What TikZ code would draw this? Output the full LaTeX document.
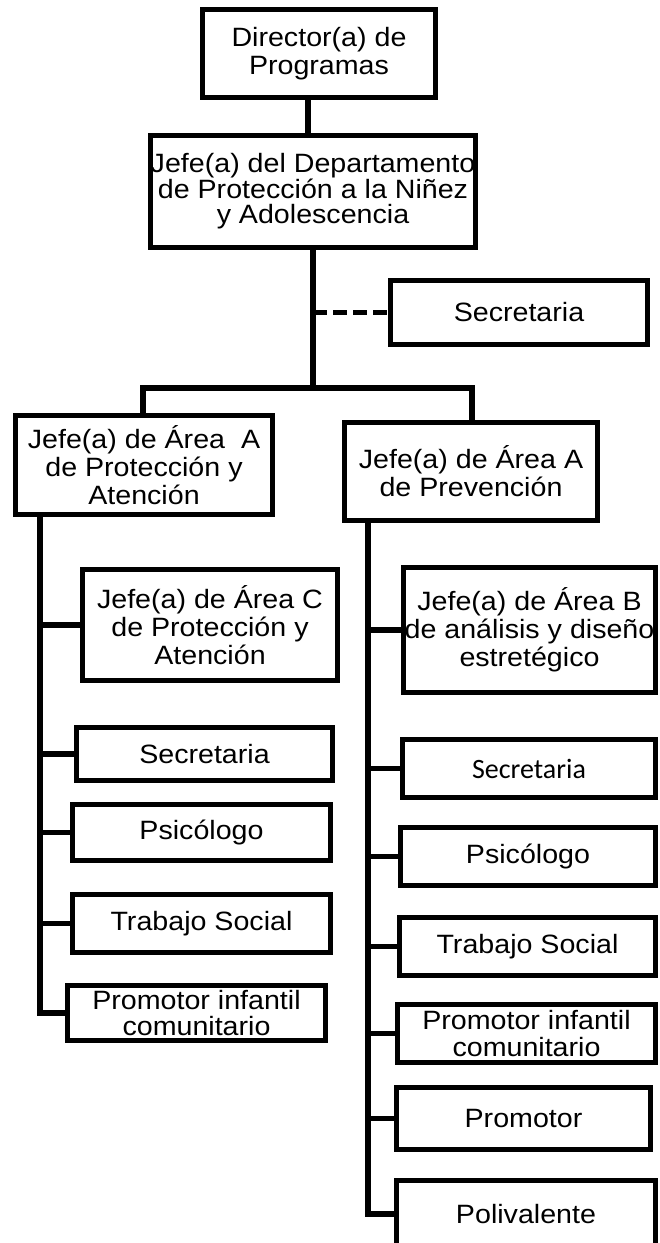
\documentclass[tikz,border=0pt]{standalone}
\usepackage{fontspec}
\setmainfont[FakeStretch=1.08]{Liberation Sans}
\newfontfamily\calfont{Carlito}
\begin{document}
\begin{tikzpicture}[x=1pt,y=-1pt,
  box/.style={draw, line width=5.5pt, rectangle, inner sep=0pt, align=center,
    font=\fontsize{26.5}{28}\selectfont},
  conn/.style={line width=5.5pt, line join=miter}]
\useasboundingbox (0,0) rectangle (660,1243);
\clip (0,0) rectangle (660,1243);
% top
\node[box, minimum width=233pt, minimum height=88pt] (dir) at (319,53.5) {Director(a) de\\Programas};
\node[box, minimum width=321pt, minimum height=112pt, font=\fontsize{26.5}{25}\selectfont, text depth=6pt] (dept) at (313,191.5) {Jefe(a) del Departamento\\de Protección a la Niñez\\y Adolescencia};
\node[box, minimum width=257pt, minimum height=64pt] (sec0) at (519,312.5) {Secretaria};
% area heads
\node[box, minimum width=257pt, minimum height=99pt] (areaA) at (144,465) {Jefe(a) de Área~ A\\de Protección y\\Atención};
\node[box, minimum width=253pt, minimum height=98pt] (areaP) at (471,471.5) {Jefe(a) de Área A\\de Prevención};
% left column
\node[box, minimum width=255pt, minimum height=111pt] (areaC) at (210,625) {Jefe(a) de Área C\\de Protección y\\Atención};
\node[box, minimum width=256pt, minimum height=53pt] (lsec) at (204.5,754) {Secretaria};
\node[box, minimum width=258pt, minimum height=56pt] (lpsi) at (201.5,832.5) {Psicólogo};
\node[box, minimum width=258pt, minimum height=58pt] (ltra) at (201.5,923.5) {Trabajo Social};
\node[box, minimum width=258pt, minimum height=55pt, font=\fontsize{26.5}{26}\selectfont] (lpro) at (196.5,1013) {Promotor infantil\\comunitario};
% right column
\node[box, minimum width=252pt, minimum height=125pt] (areaB) at (529.5,630) {Jefe(a) de Área B\\de análisis y diseño\\estretégico};
\node[box, minimum width=253pt, minimum height=58pt, font=\calfont\fontsize{28}{28}\selectfont] (rsec) at (529,768.5) {Secretaria};
\node[box, minimum width=255pt, minimum height=58pt] (rpsi) at (528,856.5) {Psicólogo};
\node[box, minimum width=256pt, minimum height=58pt] (rtra) at (527.5,946.5) {Trabajo Social};
\node[box, minimum width=258pt, minimum height=58pt, font=\fontsize{26.5}{27}\selectfont] (rpin) at (526.5,1033.5) {Promotor infantil\\comunitario};
\node[box, minimum width=254pt, minimum height=62pt] (rpro) at (523.5,1118.5) {Promotor};
\node[box, minimum width=259pt, minimum height=67pt] (rpol) at (526,1214) {Polivalente};
% connectors
\coordinate (c1) at (308,0);
\draw[conn] (dir.south -| c1) -- (dept.north -| c1);
\coordinate (bus) at (313,388);
\coordinate (busL) at (143,388);
\coordinate (busR) at (472,388);
\coordinate (dsh) at (313,312.5);
\draw[conn] (dept.south -| bus) -- (bus);
\draw[conn] (areaA.north -| busL) -- (busL) -- (busR) -- (areaP.north -| busR);
\draw[conn, dash pattern=on 14pt off 6pt] (dsh) -- (sec0.west);
\coordinate (lt) at (40,0);
\draw[conn] (areaA.south -| lt) -- (lpro.west -| lt) -- (lpro.west);
\foreach \n in {areaC,lsec,lpsi,ltra} \draw[conn] (\n.west -| lt) -- (\n.west);
\coordinate (rt) at (368,0);
\draw[conn] (areaP.south -| rt) -- (rpol.west -| rt) -- (rpol.west);
\foreach \n in {areaB,rsec,rpsi,rtra,rpin,rpro} \draw[conn] (\n.west -| rt) -- (\n.west);
\end{tikzpicture}
\end{document}
